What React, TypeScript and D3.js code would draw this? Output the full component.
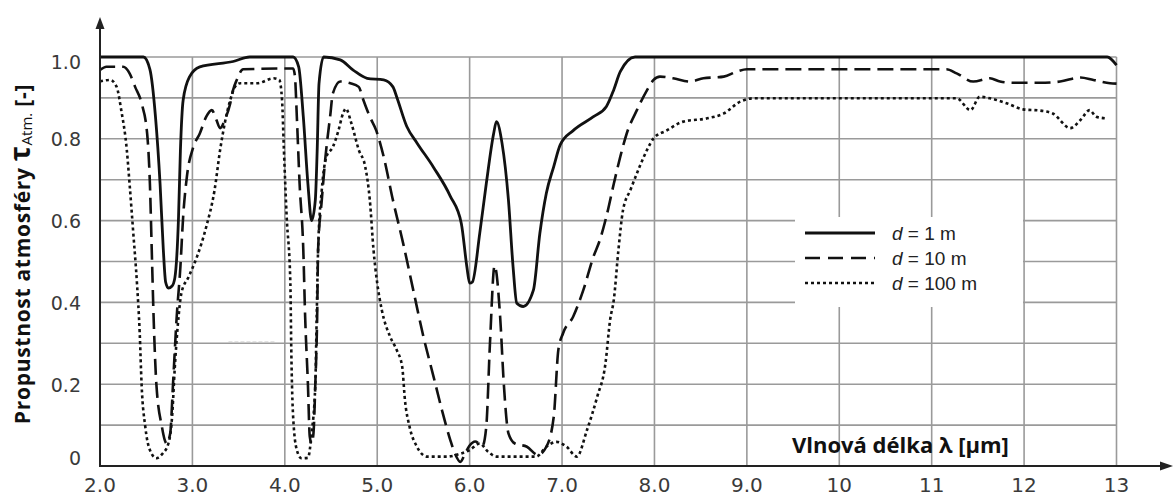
import React from "react";
import * as d3 from "d3";

type Pt = [number, number];

// wavelength [µm], transmittance [-]
const d1m: Pt[] = [
  [2.0, 1.0], [2.47, 1.0], [2.54, 0.97], [2.6, 0.855], [2.65, 0.69], [2.685, 0.53], [2.71, 0.45],
  [2.74, 0.435], [2.78, 0.44], [2.81, 0.46], [2.85, 0.61], [2.87, 0.77], [2.9, 0.895], [2.97, 0.952],
  [3.08, 0.976], [3.44, 0.989], [3.62, 1.0], [4.09, 1.0], [4.15, 0.976], [4.2, 0.854], [4.25, 0.69],
  [4.29, 0.6], [4.33, 0.65], [4.35, 0.77], [4.37, 0.935], [4.42, 1.0], [4.6, 0.993], [4.74, 0.968],
  [4.89, 0.948], [5.07, 0.944], [5.17, 0.927], [5.21, 0.903], [5.32, 0.83], [5.43, 0.79], [5.61, 0.73],
  [5.79, 0.66], [5.91, 0.593], [5.97, 0.487], [6.0, 0.447], [6.03, 0.45], [6.11, 0.57], [6.18, 0.69],
  [6.26, 0.813], [6.29, 0.842], [6.35, 0.79], [6.42, 0.65], [6.47, 0.487], [6.51, 0.398], [6.58, 0.39],
  [6.69, 0.43], [6.76, 0.569], [6.83, 0.667], [6.91, 0.732], [6.98, 0.785], [7.12, 0.82], [7.34, 0.854],
  [7.48, 0.879], [7.56, 0.92], [7.63, 0.964], [7.79, 1.0], [12.9, 1.0], [13.0, 0.98],
];

const d10m: Pt[] = [
  [2.0, 0.968], [2.07, 0.976], [2.25, 0.976], [2.32, 0.96], [2.38, 0.927], [2.45, 0.887], [2.51, 0.813],
  [2.54, 0.69], [2.56, 0.528], [2.58, 0.365], [2.61, 0.2], [2.67, 0.096], [2.7, 0.064], [2.72, 0.055],
  [2.76, 0.08], [2.79, 0.2], [2.83, 0.365], [2.87, 0.487], [2.9, 0.61], [2.94, 0.707], [3.01, 0.78],
  [3.08, 0.813], [3.15, 0.854], [3.21, 0.87], [3.26, 0.846], [3.3, 0.826], [3.35, 0.846], [3.41, 0.887],
  [3.44, 0.919], [3.48, 0.944], [3.55, 0.97], [4.09, 0.972], [4.11, 0.952], [4.13, 0.854], [4.16, 0.69],
  [4.2, 0.528], [4.22, 0.365], [4.25, 0.2], [4.27, 0.072], [4.29, 0.055], [4.31, 0.08], [4.33, 0.2],
  [4.35, 0.365], [4.36, 0.528], [4.4, 0.65], [4.44, 0.756], [4.49, 0.854], [4.52, 0.911], [4.6, 0.94],
  [4.71, 0.936], [4.8, 0.927], [4.85, 0.895], [4.92, 0.854], [4.99, 0.82], [5.07, 0.756], [5.17, 0.65],
  [5.28, 0.545], [5.39, 0.43], [5.5, 0.316], [5.61, 0.218], [5.7, 0.137], [5.79, 0.064], [5.84, 0.031],
  [5.9, 0.01], [5.95, 0.03], [6.0, 0.05], [6.06, 0.06], [6.14, 0.05], [6.18, 0.096], [6.22, 0.3],
  [6.27, 0.49], [6.33, 0.365], [6.37, 0.2], [6.42, 0.08], [6.49, 0.055], [6.62, 0.047], [6.74, 0.027],
  [6.83, 0.047], [6.91, 0.12], [6.96, 0.284], [7.01, 0.324], [7.12, 0.365], [7.23, 0.43], [7.34, 0.512],
  [7.41, 0.553], [7.48, 0.61], [7.56, 0.69], [7.63, 0.756], [7.7, 0.813], [7.81, 0.87], [7.92, 0.919],
  [7.99, 0.944], [8.06, 0.952], [8.2, 0.948], [8.38, 0.94], [8.53, 0.948], [8.75, 0.952], [8.89, 0.964],
  [9.0, 0.97], [11.16, 0.97], [11.27, 0.96], [11.45, 0.94], [11.63, 0.948], [11.74, 0.94], [11.88, 0.937],
  [12.17, 0.937], [12.39, 0.94], [12.61, 0.95], [12.75, 0.944], [12.93, 0.936], [13.0, 0.935],
];

const d100m: Pt[] = [
  [2.0, 0.94], [2.11, 0.944], [2.18, 0.927], [2.23, 0.87], [2.29, 0.773], [2.32, 0.69], [2.36, 0.57],
  [2.4, 0.447], [2.43, 0.324], [2.45, 0.2], [2.49, 0.096], [2.54, 0.039], [2.61, 0.019], [2.68, 0.031],
  [2.74, 0.055], [2.78, 0.12], [2.81, 0.243], [2.85, 0.365], [2.88, 0.422], [2.96, 0.463], [3.05, 0.512],
  [3.15, 0.585], [3.24, 0.675], [3.3, 0.773], [3.35, 0.838], [3.41, 0.895], [3.46, 0.927], [3.52, 0.936],
  [3.7, 0.936], [3.88, 0.948], [3.94, 0.944], [3.97, 0.895], [3.99, 0.773], [4.02, 0.61], [4.06, 0.447],
  [4.07, 0.284], [4.09, 0.12], [4.13, 0.039], [4.18, 0.019], [4.25, 0.02], [4.29, 0.08], [4.33, 0.2],
  [4.345, 0.365], [4.36, 0.528], [4.4, 0.675], [4.45, 0.756], [4.52, 0.78], [4.58, 0.82], [4.63, 0.862],
  [4.66, 0.874], [4.72, 0.838], [4.8, 0.773], [4.87, 0.732], [4.92, 0.65], [4.96, 0.528], [5.0, 0.447],
  [5.05, 0.381], [5.14, 0.316], [5.21, 0.284], [5.27, 0.243], [5.3, 0.161], [5.35, 0.096], [5.43, 0.047],
  [5.54, 0.023], [5.75, 0.023], [5.9, 0.03], [6.0, 0.039], [6.11, 0.055], [6.2, 0.035], [6.29, 0.023],
  [6.72, 0.023], [6.83, 0.047], [6.94, 0.059], [7.05, 0.047], [7.16, 0.023], [7.27, 0.088], [7.38, 0.169],
  [7.47, 0.251], [7.52, 0.357], [7.56, 0.406], [7.61, 0.528], [7.66, 0.626], [7.74, 0.675], [7.84, 0.732],
  [7.92, 0.773], [7.99, 0.801], [8.13, 0.82], [8.31, 0.842], [8.57, 0.85], [8.75, 0.862], [8.93, 0.891],
  [9.07, 0.899], [11.27, 0.899], [11.42, 0.87], [11.52, 0.903], [11.63, 0.899], [11.81, 0.887],
  [11.99, 0.872], [12.17, 0.869], [12.31, 0.862], [12.5, 0.826], [12.61, 0.846], [12.71, 0.87],
  [12.78, 0.854], [12.89, 0.85],
];

const xTicks = [2, 3, 4, 5, 6, 7, 8, 9, 10, 11, 12, 13];
const xTickLabels = ["2.0", "3.0", "4.0", "5.0", "6.0", "7.0", "8.0", "9.0", "10", "11", "12", "13"];
const yGrid = [0.1, 0.2, 0.3, 0.4, 0.5, 0.6, 0.7, 0.8, 0.9, 1.0];
const yTicks = [0, 0.2, 0.4, 0.6, 0.8, 1.0];
const yTickLabels = ["0", "0.2", "0.4", "0.6", "0.8", "1.0"];
const legendLabels = ["1 m", "10 m", "100 m"];
const scanMark: Pt[] = [[3.39, 0.303], [3.9, 0.303]];

const W = 1173;
const H = 498;

export default function App() {
  const x = d3.scaleLinear().domain([2, 13]).range([100, 1116.5]);
  const y = d3.scaleLinear().domain([0, 1]).range([466, 57]);
  const line = d3
    .line<Pt>()
    .x((d) => x(d[0]))
    .y((d) => y(d[1]))
    .curve(d3.curveMonotoneX);

  const styles = [
    { dash: "none", width: 2.8 },
    { dash: "16,7", width: 2.6 },
    { dash: "3,3", width: 2.6 },
  ];
  const series = [d1m, d10m, d100m];
  const grid = "#9a9a9a";
  const tickFont = "'DejaVu Sans', 'Liberation Sans', sans-serif";

  const lx0 = 805;
  const lx1 = 875;
  const ly = [233, 258, 283];

  return (
    <svg
      width={W}
      height={H}
      style={{ position: "absolute", left: 0, top: 0, background: "#fff" }}
    >
      <rect x={0} y={0} width={W} height={H} fill="#fff" />
      {/* grid */}
      {yGrid.map((v) => (
        <line key={"hg" + v} x1={x(2)} x2={x(13)} y1={y(v)} y2={y(v)} stroke={grid} strokeWidth={1.6} />
      ))}
      {xTicks.slice(1).map((v) => (
        <line key={"vg" + v} x1={x(v)} x2={x(v)} y1={y(1)} y2={y(0)} stroke={grid} strokeWidth={1.6} />
      ))}
      {/* stray scan mark */}
      <path d={line(scanMark) || ""} stroke="#c8c8c8" strokeWidth={1.2} strokeDasharray="4,2" fill="none" />
      {/* legend background */}
      <rect x={795} y={217} width={228} height={90} fill="#fff" />
      {/* x axis title */}
      <text
        x={792}
        y={453}
        fontFamily="'Open Sans', sans-serif"
        fontWeight={700}
        fontSize={22}
        fill="#111"
      >
        Vlnová délka λ [µm]
      </text>
      {/* series */}
      {series.map((s, i) => (
        <path
          key={"s" + i}
          d={line(s) || ""}
          fill="none"
          stroke="#111"
          strokeWidth={styles[i].width}
          strokeDasharray={styles[i].dash}
          strokeLinejoin="round"
        />
      ))}
      {/* axes */}
      <line x1={x(2)} x2={x(2)} y1={y(0) + 1} y2={24} stroke="#222" strokeWidth={2} />
      <path d={`M${x(2)},17 L${x(2) - 4.5},29 L${x(2) + 4.5},29 Z`} fill="#222" />
      <line x1={x(2)} x2={1162} y1={y(0)} y2={y(0)} stroke="#222" strokeWidth={2.2} />
      <path d={`M1173,${y(0)} L1160,${y(0) - 4.5} L1160,${y(0) + 4.5} Z`} fill="#222" />
      {/* x tick labels */}
      {xTicks.map((v, i) => (
        <text
          key={"xt" + v}
          x={x(v)}
          y={492}
          textAnchor="middle"
          fontFamily={tickFont}
          fontSize={20}
          fill="#3a3a3a"
        >
          {xTickLabels[i]}
        </text>
      ))}
      {/* y tick labels */}
      {yTicks.map((v, i) => (
        <text
          key={"yt" + v}
          x={81}
          y={y(v) + (v === 0 ? -8 : v === 1 ? 5 : 1)}
          dy="0.35em"
          textAnchor="end"
          fontFamily={tickFont}
          fontSize={19}
          fill="#3a3a3a"
        >
          {yTickLabels[i]}
        </text>
      ))}
      {/* y axis title */}
      <text
        transform="translate(30,254) rotate(-90)"
        textAnchor="middle"
        fontFamily="'Open Sans', sans-serif"
        fontWeight={700}
        fontSize={21}
        letterSpacing={0.7}
        fill="#111"
      >
        Propustnost atmosféry{" "}
        <tspan fontSize={28}>τ</tspan>
        <tspan fontSize={15} fontWeight={400} letterSpacing={0} dy={2}>
          Atm.
        </tspan>
        <tspan dy={-2}> [-]</tspan>
      </text>
      {/* legend */}
      {legendLabels.map((lab, i) => (
        <g key={"lg" + i}>
          <line
            x1={lx0}
            x2={lx1}
            y1={ly[i]}
            y2={ly[i]}
            stroke="#111"
            strokeWidth={styles[i].width}
            strokeDasharray={i === 1 ? "15,8" : styles[i].dash}
          />
          <text
            x={892}
            y={ly[i] + 7}
            fontFamily="'Liberation Sans', Arial, sans-serif"
            fontSize={19}
            fill="#222"
          >
            <tspan fontStyle="italic">d</tspan> = {lab}
          </text>
        </g>
      ))}
    </svg>
  );
}
